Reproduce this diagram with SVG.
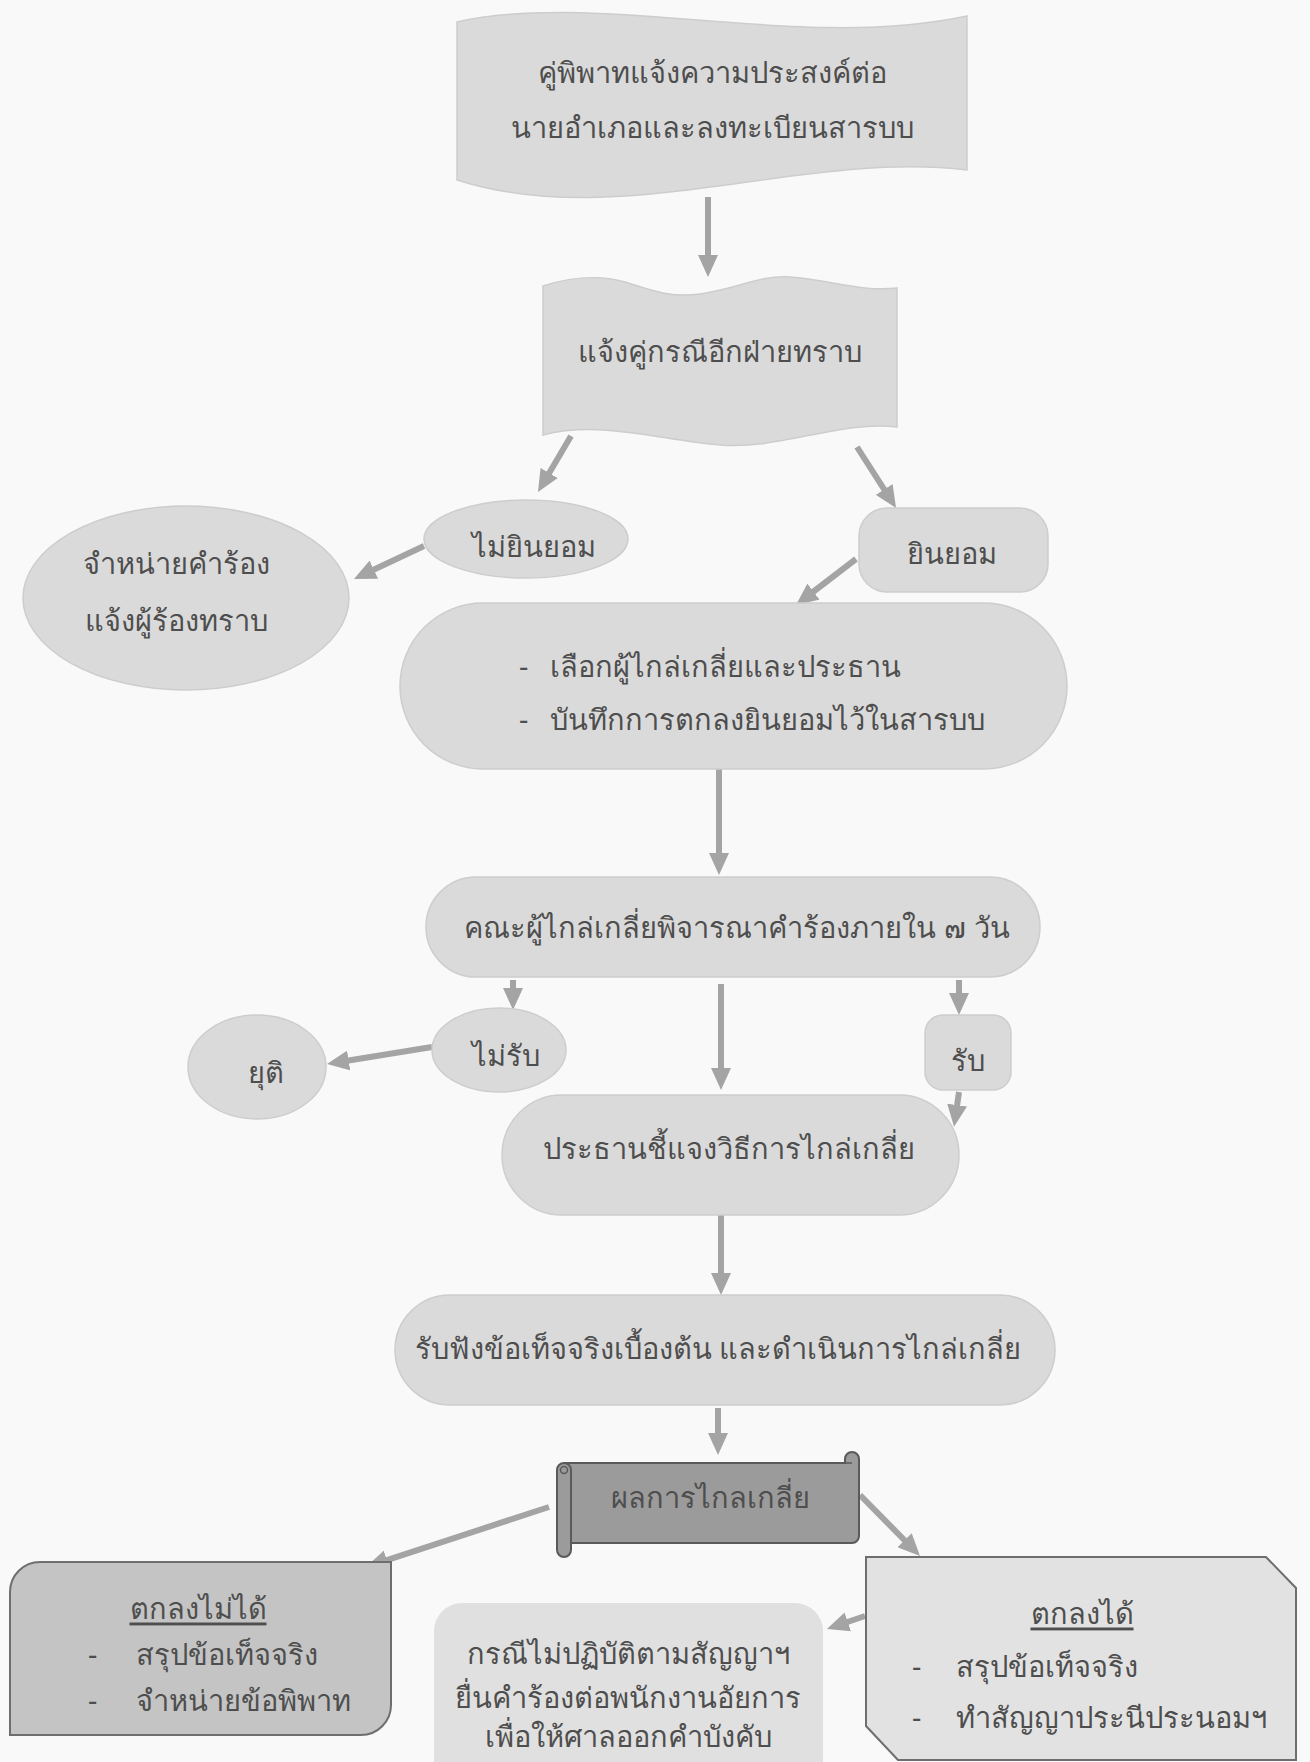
<svg xmlns="http://www.w3.org/2000/svg" width="1310" height="1762" viewBox="0 0 1310 1762">
<defs>
<marker id="ah" markerWidth="22" markerHeight="20" refX="8" refY="10" orient="auto" markerUnits="userSpaceOnUse">
<path d="M0,0 L22,10 L0,20 z" fill="#a4a4a4"/>
</marker>
<style>
.n{fill:#dadada;stroke:#cdcdcd;stroke-width:1.5}
.t{font-family:"Noto Sans","DejaVu Sans",sans-serif;font-size:29px;fill:#4e4e4e;dominant-baseline:central}
.c{text-anchor:middle}
.e{stroke:#a4a4a4;stroke-width:6;fill:none;marker-end:url(#ah)}
</style>
</defs>
<rect width="1310" height="1762" fill="#f9f9f9"/>

<g id="connectors">
<line class="e" x1="708" y1="197" x2="708" y2="263"/>
<line class="e" x1="571" y1="436" x2="545.1" y2="479.9"/>
<line class="e" x1="857" y1="447" x2="888.5" y2="496.2"/>
<line class="e" x1="424" y1="546" x2="366.6" y2="573"/>
<line class="e" x1="856" y1="559" x2="807.1" y2="596.5"/>
<line class="e" x1="719" y1="769" x2="719" y2="861"/>
<line class="e" x1="513" y1="980" x2="513" y2="996"/>
<line class="e" x1="721" y1="984" x2="721" y2="1076"/>
<line class="e" x1="959" y1="980" x2="959" y2="1001"/>
<line class="e" x1="432" y1="1047" x2="340.8" y2="1061.8"/>
<line class="e" x1="959" y1="1092" x2="956" y2="1113"/>
<line class="e" x1="721" y1="1215" x2="721" y2="1281"/>
<line class="e" x1="718" y1="1408" x2="718" y2="1441"/>
<line class="e" x1="549" y1="1507" x2="379.3" y2="1562.6"/>
<line class="e" x1="860" y1="1495" x2="910.2" y2="1546"/>
<line class="e" x1="865" y1="1616" x2="840.2" y2="1624.5"/>
</g>

<g id="n1">
<path class="n" d="M457,22 C600,-10 800,52 967,16 L967,170 C800,150 620,232 457,180 Z"/>
<text class="t c" x="712" y="71" font-size="31.5">คู่พิพาทแจ้งความประสงค์ต่อ</text>
<text class="t c" x="712" y="126" font-size="31.5">นายอำเภอและลงทะเบียนสารบบ</text>
</g>

<g id="n2">
<path class="n" d="M543,286 C575,276 600,275 625,282 C650,290 670,298 700,294 C740,288 760,275 790,277 C830,280 860,292 897,288 L897,427 C840,420 780,450 720,445 C660,440 600,420 543,435 Z"/>
<text class="t c" x="720" y="350" font-size="31">แจ้งคู่กรณีอีกฝ่ายทราบ</text>
</g>

<g id="n3">
<ellipse class="n" cx="526" cy="539" rx="102" ry="39"/>
<text class="t c" x="534" y="545" font-size="26">ไม่ยินยอม</text>
</g>

<g id="n4">
<rect class="n" x="859" y="508" width="189" height="84" rx="28"/>
<text class="t c" x="952" y="552" font-size="26">ยินยอม</text>
</g>

<g id="n5">
<ellipse class="n" cx="186" cy="598" rx="163" ry="92"/>
<text class="t c" x="176" y="562">จำหน่ายคำร้อง</text>
<text class="t c" x="176" y="619">แจ้งผู้ร้องทราบ</text>
</g>

<g id="n6">
<rect class="n" x="400" y="603" width="667" height="166" rx="83"/>
<text class="t" x="519" y="665">-</text>
<text class="t" x="550" y="665">เลือกผู้ไกล่เกลี่ยและประธาน</text>
<text class="t" x="519" y="718">-</text>
<text class="t" x="550" y="718">บันทึกการตกลงยินยอมไว้ในสารบบ</text>
</g>

<g id="n7">
<rect class="n" x="426" y="877" width="614" height="100" rx="50"/>
<text class="t c" x="737" y="926" font-size="28.5">คณะผู้ไกล่เกลี่ยพิจารณาคำร้องภายใน ๗ วัน</text>
</g>

<g id="n8">
<ellipse class="n" cx="499" cy="1050" rx="67" ry="42"/>
<text class="t c" x="506" y="1054" font-size="25.5">ไม่รับ</text>
</g>

<g id="n9">
<ellipse class="n" cx="257" cy="1067" rx="69" ry="52"/>
<text class="t c" x="266" y="1071" font-size="26">ยุติ</text>
</g>

<g id="n10">
<rect class="n" x="925" y="1015" width="86" height="75" rx="18"/>
<text class="t c" x="968" y="1059" font-size="26">รับ</text>
</g>

<g id="n11">
<rect class="n" x="502" y="1095" width="457" height="120" rx="60"/>
<text class="t c" x="729" y="1147">ประธานชี้แจงวิธีการไกล่เกลี่ย</text>
</g>

<g id="n12">
<rect class="n" x="395" y="1295" width="660" height="110" rx="55"/>
<text class="t c" x="718" y="1347">รับฟังข้อเท็จจริงเบื้องต้น และดำเนินการไกล่เกลี่ย</text>
</g>

<g id="n13">
<path d="M565,1463 L845,1463 L845,1459 A7,7 0 0 1 859,1459 L859,1536 A7,7 0 0 1 852,1543 L571,1543 Z" fill="#9b9b9b" stroke="#5a5a5a" stroke-width="2"/>
<line x1="845" y1="1463" x2="852" y2="1463" stroke="#5a5a5a" stroke-width="1.5"/>
<rect x="557" y="1463" width="14" height="94" rx="7" fill="#9b9b9b" stroke="#5a5a5a" stroke-width="2"/>
<circle cx="564" cy="1470" r="3.5" fill="none" stroke="#5a5a5a" stroke-width="1.5"/>
<text class="t c" x="710" y="1496" font-size="27" fill="#555">ผลการไกลเกลี่ย</text>
</g>

<g id="n14">
<path d="M40,1562 L391,1562 L391,1705 A30,30 0 0 1 361,1735 L10,1735 L10,1592 A30,30 0 0 1 40,1562 Z" fill="#c4c4c4" stroke="#6e6e6e" stroke-width="2"/>
<text class="t c" x="198" y="1607" font-size="25.5" text-decoration="underline">ตกลงไม่ได้</text>
<text class="t" x="88" y="1653" font-size="25.5">-</text>
<text class="t" x="136" y="1653" font-size="25.5">สรุปข้อเท็จจริง</text>
<text class="t" x="88" y="1699" font-size="25.5">-</text>
<text class="t" x="136" y="1699" font-size="25.5">จำหน่ายข้อพิพาท</text>
</g>

<g id="n15">
<path d="M434,1775 L434,1631 A28,28 0 0 1 462,1603 L795,1603 A28,28 0 0 1 823,1631 L823,1775 Z" fill="#e0e0e0"/>
<text class="t c" x="628" y="1652" font-size="27.5">กรณีไม่ปฏิบัติตามสัญญาฯ</text>
<text class="t c" x="628" y="1696" font-size="27.5">ยื่นคำร้องต่อพนักงานอัยการ</text>
<text class="t c" x="628" y="1735" font-size="27.5">เพื่อให้ศาลออกคำบังคับ</text>
</g>

<g id="n16">
<path d="M866,1557 L1266,1557 L1296,1588 L1296,1760 L898,1760 L866,1726 Z" fill="#e2e2e2" stroke="#6e6e6e" stroke-width="2"/>
<text class="t c" x="1082" y="1612" font-size="28" text-decoration="underline">ตกลงได้</text>
<text class="t" x="912" y="1665" font-size="28">-</text>
<text class="t" x="956" y="1665" font-size="28">สรุปข้อเท็จจริง</text>
<text class="t" x="912" y="1716" font-size="28">-</text>
<text class="t" x="956" y="1716" font-size="28">ทำสัญญาประนีประนอมฯ</text>
</g>
</svg>
